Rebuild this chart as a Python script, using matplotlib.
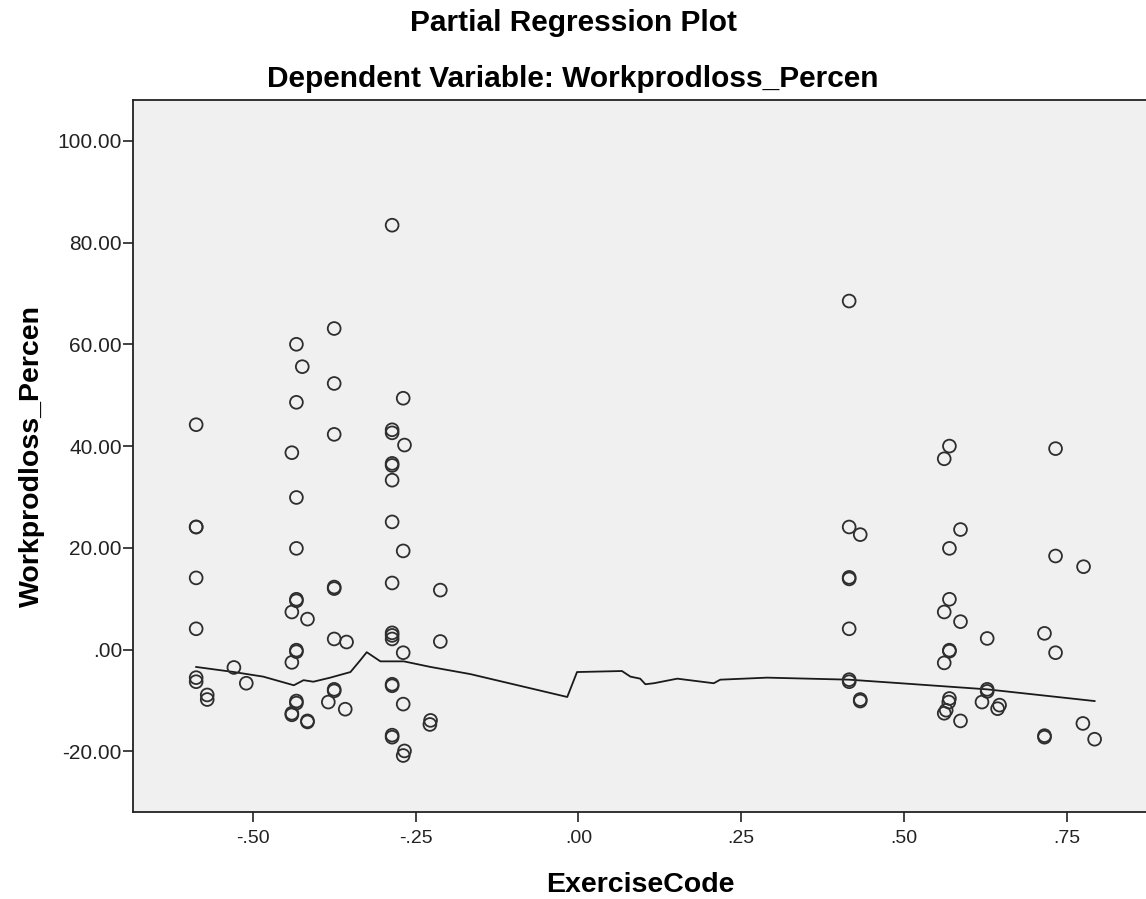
import numpy as np
import matplotlib
matplotlib.use("Agg")
import matplotlib.pyplot as plt
from matplotlib.ticker import FixedLocator

# ----------------------------
# Data
# ----------------------------
x_pts = [
    -0.587, -0.587, -0.587, -0.587, -0.587, -0.587, -0.587,
    -0.570, -0.570, -0.529, -0.510,
    -0.433, -0.433, -0.433, -0.433, -0.433, -0.433, -0.433, -0.433, -0.433, -0.433,
    -0.424,
    -0.440, -0.440, -0.440, -0.440, -0.440,
    -0.416, -0.416, -0.416,
    -0.375, -0.375, -0.375, -0.375, -0.375, -0.375, -0.375, -0.375,
    -0.356, -0.384, -0.358,
    -0.286, -0.286, -0.286, -0.286, -0.286, -0.286, -0.286, -0.286, -0.286, -0.286,
    -0.286, -0.286, -0.286, -0.286, -0.286,
    -0.269, -0.269, -0.269, -0.269, -0.269,
    -0.267, -0.267, -0.227, -0.228, -0.212, -0.212,
    0.416, 0.416, 0.416, 0.416, 0.416, 0.416, 0.416,
    0.433, 0.433, 0.433,
    0.570, 0.570, 0.570, 0.570, 0.570, 0.570,
    0.562, 0.562, 0.562, 0.562,
    0.569, 0.565,
    0.587, 0.587, 0.587,
    0.628, 0.628, 0.628,
    0.620, 0.647, 0.644,
    0.716, 0.716, 0.716,
    0.733, 0.733, 0.733,
    0.776, 0.775, 0.793,
]
y_pts = [
    44.2, 24.1, 24.1, 14.1, 4.1, -5.5, -6.3,
    -8.9, -9.8, -3.5, -6.6,
    60.0, 48.6, 29.9, 19.9, 9.9, 9.6, -0.1, -0.4, -10.1, -10.5,
    55.6,
    38.7, 7.4, -2.5, -12.5, -12.8,
    6.0, -14.0, -14.2,
    63.1, 52.3, 42.3, 12.3, 12.0, 2.1, -7.8, -8.1,
    1.5, -10.3, -11.7,
    83.4, 43.2, 42.6, 36.6, 36.2, 33.3, 25.1, 13.1, 3.3, 2.8,
    2.1, -6.8, -7.1, -16.8, -17.2,
    49.4, 19.4, -0.6, -10.7, -20.8,
    40.2, -19.9, -13.9, -14.7, 11.7, 1.6,
    68.5, 24.1, 14.2, 13.9, 4.1, -5.9, -6.3,
    22.6, -9.8, -10.1,
    40.0, 19.9, 9.9, -0.1, -0.3, -9.6,
    37.5, 7.4, -2.6, -12.5,
    -10.3, -11.9,
    23.6, 5.5, -14.0,
    2.2, -7.8, -8.2,
    -10.3, -10.9, -11.6,
    3.2, -16.9, -17.2,
    39.5, 18.4, -0.6,
    16.3, -14.5, -17.6,
]

# fit line (loess-like smoother)
fit_x = [-0.587, -0.529, -0.484, -0.437, -0.422, -0.407, -0.381, -0.350, -0.335,
         -0.325, -0.304, -0.268, -0.227, -0.166, -0.017, -0.002, 0.067, 0.080,
         0.095, 0.103, 0.116, 0.152, 0.208, 0.218, 0.290, 0.416, 0.495, 0.628, 0.793]
fit_y = [-3.4, -4.4, -5.3, -7.0, -6.0, -6.3, -5.5, -4.4, -2.1,
         -0.5, -2.3, -2.3, -3.4, -4.8, -9.3, -4.4, -4.2, -5.3,
         -5.7, -6.8, -6.6, -5.7, -6.6, -5.9, -5.5, -5.9, -6.6, -7.8, -10.1]

x_ticks = [-0.50, -0.25, 0.00, 0.25, 0.50, 0.75]
x_ticklabels = ["-.50", "-.25", ".00", ".25", ".50", ".75"]
y_ticks = [-20, 0, 20, 40, 60, 80, 100]
y_ticklabels = ["-20.00", ".00", "20.00", "40.00", "60.00", "80.00", "100.00"]

plt.rcParams['font.family'] = ['Liberation Sans', 'DejaVu Sans']

fig = plt.figure(figsize=(11.46, 8.99), dpi=100)
ax = fig.add_axes([133 / 1146, 1 - 812 / 899, 1015 / 1146, 712 / 899])
ax.set_facecolor('#f0f0f0')

ax.scatter(x_pts, y_pts, s=85, facecolors='none', edgecolors='#2e2e2e',
           linewidths=1.3, zorder=3)
ax.plot(fit_x, fit_y, color='#1a1a1a', linewidth=1.3, zorder=2)

ax.set_xlim(-0.684, 0.875)
ax.set_ylim(-31.9, 108.0)

ax.xaxis.set_major_locator(FixedLocator(x_ticks))
ax.set_xticklabels(x_ticklabels, fontsize=14)
ax.yaxis.set_major_locator(FixedLocator(y_ticks))
ax.set_yticklabels(y_ticklabels, fontsize=15)
ax.tick_params(axis='both', direction='out', length=7, width=1.2, color='#222222',
               labelcolor='#222222')
ax.tick_params(axis='x', pad=6)
ax.tick_params(axis='y', pad=1)

for sp in ax.spines.values():
    sp.set_linewidth(1.3)
    sp.set_color('#222222')

ax.set_xlabel("ExerciseCode", fontsize=20.5, fontweight='bold', labelpad=18)
ax.set_ylabel("Workprodloss_Percen", fontsize=20.5, fontweight='bold', labelpad=9)

fig.text(0.5, 1 - 23 / 899, "Partial Regression Plot", ha='center', va='center',
         fontsize=21.5, fontweight='bold')
fig.text(0.5, 1 - 79 / 899, "Dependent Variable: Workprodloss_Percen", ha='center',
         va='center', fontsize=21.5, fontweight='bold')

fig.savefig("out.png", dpi=100, facecolor='white')
